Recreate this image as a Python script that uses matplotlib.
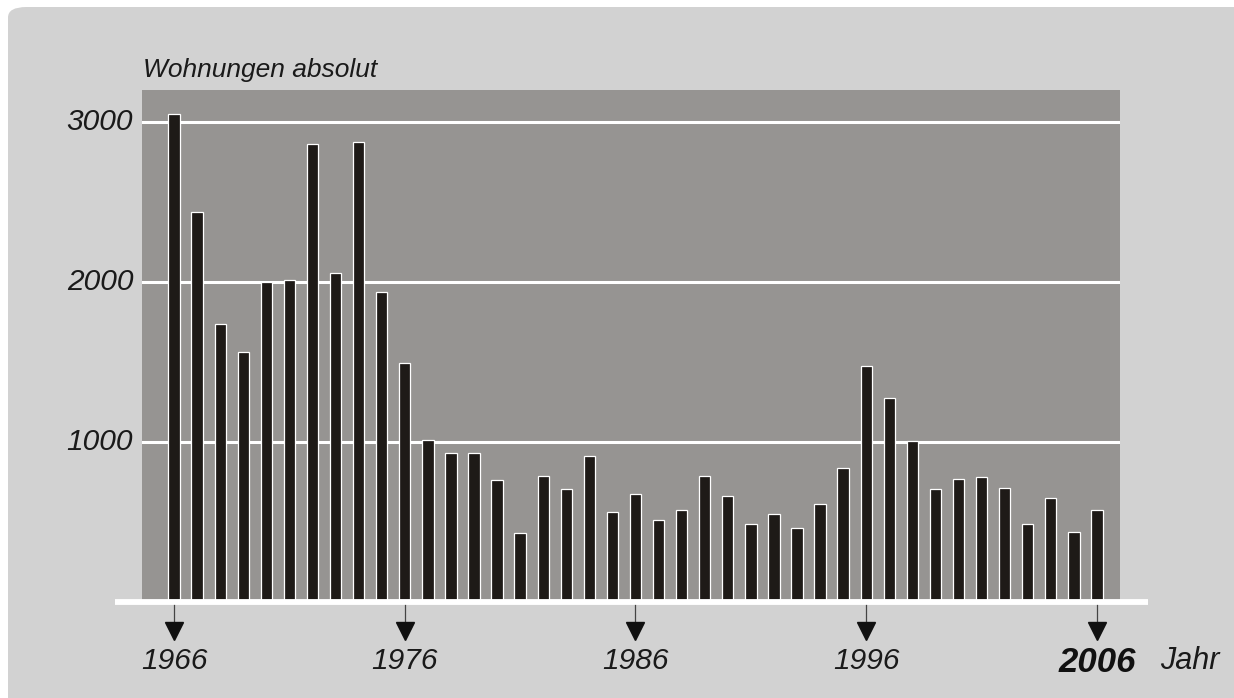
import numpy as np
import matplotlib
matplotlib.use("Agg")
import matplotlib.pyplot as plt
from matplotlib.patches import FancyBboxPatch
import matplotlib.transforms as mtransforms

years = list(range(1966, 2007))
wohnungen = [3050, 2440, 1735, 1565, 2000, 2010, 2865, 2055, 2875, 1935,
             1495, 1010, 930, 930, 760, 430, 785, 705, 910, 560,
             675, 510, 575, 785, 665, 490, 550, 460, 615, 840,
             1477, 1275, 1005, 705, 770, 782, 714, 485, 648, 440, 572]
yticks = [1000, 2000, 3000]
xmarks = [1966, 1976, 1986, 1996, 2006]

plt.rcParams['font.family'] = ['Liberation Sans', 'DejaVu Sans']

W, H = 1234, 698
fig = plt.figure(figsize=(W / 100, H / 100), dpi=100)
fig.patch.set_facecolor('white')

# outer light grey panel with rounded corners
bg = FancyBboxPatch((8 / W, -0.05), 1.05, 1.05 - 7 / H,
                    boxstyle="round,pad=0,rounding_size=0.015",
                    transform=fig.transFigure, facecolor='#d2d2d2',
                    edgecolor='none', zorder=-10)
fig.patches.append(bg)

left, right, top, bottom = 142, 1120, 90, 602
ax = fig.add_axes([left / W, 1 - bottom / H, (right - left) / W, (bottom - top) / H])
ax.set_zorder(5)
ax.set_facecolor('#969492')
ax.set_xlim(1964.61, 2007.0)
ax.set_ylim(0, 3200)
for s in ax.spines.values():
    s.set_visible(False)
ax.set_xticks([])
ax.set_yticks([])

for v in yticks:
    ax.axhline(v, color='white', lw=2.2, zorder=1)
    ax.text(-0.009, v, str(v), transform=ax.get_yaxis_transform(), ha='right',
            va='center', fontsize=21.5, style='italic', color='#1a1a1a')

ax.bar(years, wohnungen, width=0.49, color='#1e1a17', edgecolor='white',
       linewidth=0.9, zorder=2)

# white baseline
ax.plot([-0.028, 1.029], [0, 0], transform=ax.transAxes, color='white',
        lw=4.2, clip_on=False, zorder=3, solid_capstyle='butt')

trans = mtransforms.blended_transform_factory(ax.transData, ax.transAxes)
for yr in xmarks:
    ax.plot([yr, yr], [-0.006, -0.04], transform=trans, color='#444444',
            lw=0.9, clip_on=False, zorder=3)
    ax.plot([yr], [-0.057], transform=trans, marker='v', markersize=13,
            color='#111111', clip_on=False, zorder=3)
    if yr == 2006:
        ax.text(yr, -0.118, str(yr), transform=trans, ha='center', va='center',
                fontsize=25, style='italic', weight='bold', color='#111111')
    else:
        ax.text(yr, -0.115, str(yr), transform=trans, ha='center', va='center',
                fontsize=21.5, style='italic', color='#1a1a1a')

ax.text(1.041, -0.115, 'Jahr', transform=ax.transAxes, ha='left', va='center',
        fontsize=22, style='italic', color='#1a1a1a')
ax.text(0.001, 1.039, 'Wohnungen absolut', transform=ax.transAxes, ha='left',
        va='center', fontsize=19, style='italic', color='#1a1a1a')

fig.savefig('out.png', dpi=100)
